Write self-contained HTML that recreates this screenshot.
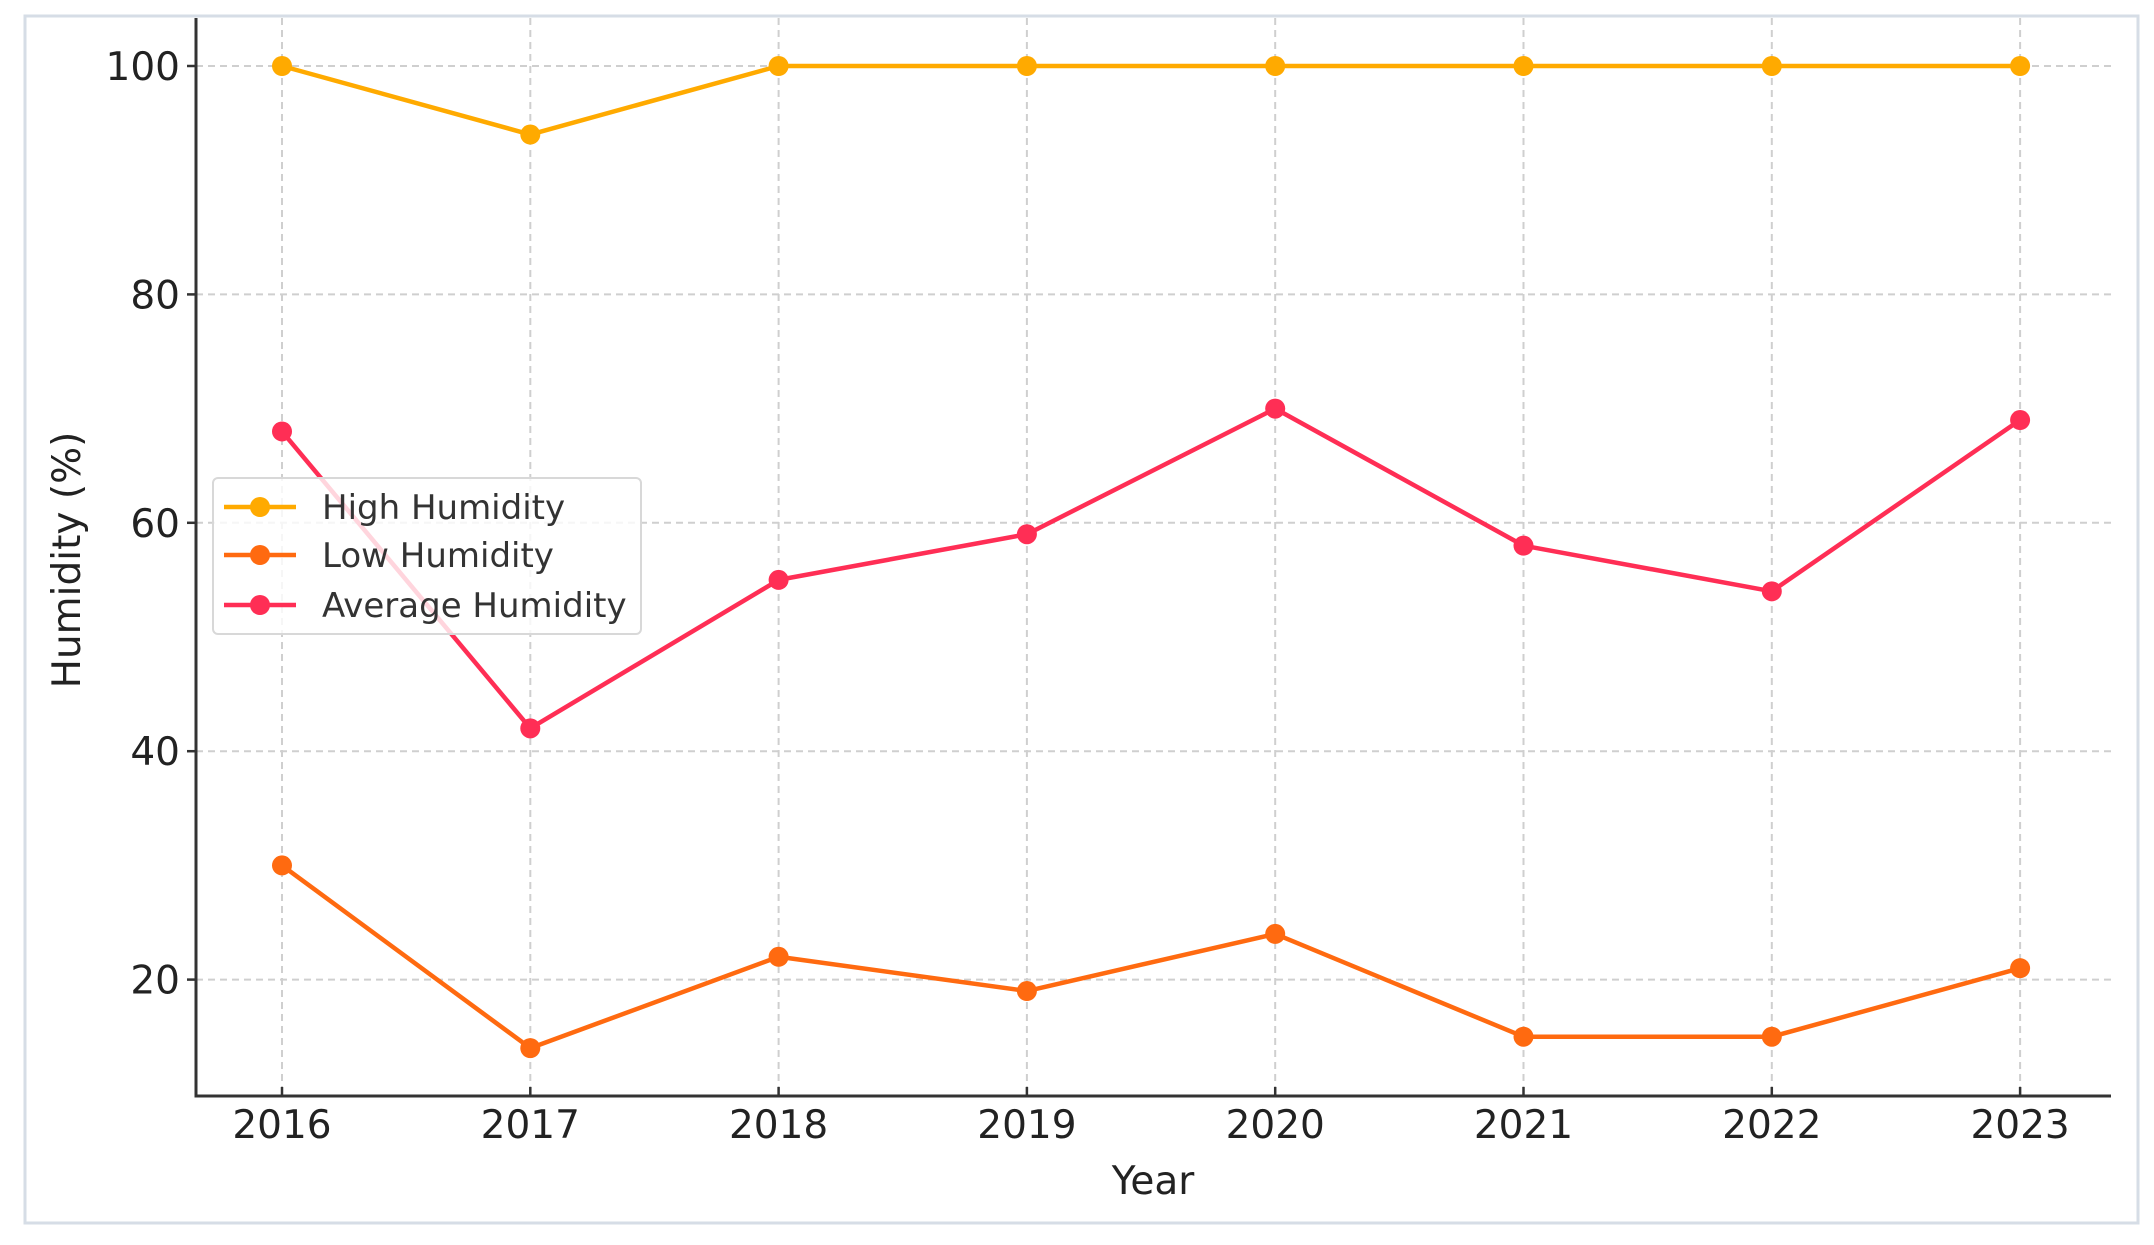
<!DOCTYPE html>
<html><head><meta charset="utf-8"><style>
html,body{margin:0;padding:0;background:#fff;}
svg{display:block;font-family:"DejaVu Sans","Liberation Sans",sans-serif;}
</style></head><body>
<svg id="chart" width="2154" height="1245" viewBox="0 0 2154 1245">
<rect x="25" y="16" width="2113" height="1207" fill="#fff" stroke="#d6dde6" stroke-width="3"/>
<g id="grid"></g>
<g id="axes"></g>
<g id="series"></g>
<text x="1153" y="1194" font-size="39" text-anchor="middle" fill="#222">Year</text>
<text transform="translate(80,560) rotate(-90)" font-size="39" text-anchor="middle" fill="#222">Humidity (%)</text>
<g id="legend"></g>
</svg>
<script>
const years = [2016,2017,2018,2019,2020,2021,2022,2023];
const highHumidity = [100,94,100,100,100,100,100,100];
const lowHumidity = [30,14,22,19,24,15,15,21];
const avgHumidity = [68,42,55,59,70,58,54,69];
const yTicks = [20,40,60,80,100];
const seriesNames = ["High Humidity","Low Humidity","Average Humidity"];

const NS = "http://www.w3.org/2000/svg";
const X0 = 282, XSTEP = 248.3;
function xs(i){ return X0 + i*XSTEP; }
function ys(v){ return 66 + (100 - v)*11.42; }
function mk(tag, attrs, parent){
  const e = document.createElementNS(NS, tag);
  for (const k in attrs) e.setAttribute(k, attrs[k]);
  parent.appendChild(e);
  return e;
}
const grid = document.getElementById('grid');
const axes = document.getElementById('axes');
const series = document.getElementById('series');
const legend = document.getElementById('legend');
const L = 196, R = 2111, T = 18, B = 1096;

yTicks.forEach(v => {
  const y = ys(v);
  const g = mk('line', {x1:L, x2:R, y1:y, y2:y, stroke:'#cfcfcf', 'stroke-width':2, 'stroke-dasharray':'7,5'}, grid);
  
  
  const t = mk('line', {x1:L-9, x2:L, y1:y, y2:y, stroke:'#333', 'stroke-width':2.5}, axes);
  
  
  const lb = mk('text', {x:L-16, y:y+14, 'font-size':39, 'text-anchor':'end', fill:'#222'}, axes);
  lb.textContent = v;
  
  
});
years.forEach((yr, i) => {
  const x = xs(i);
  const g = mk('line', {x1:x, x2:x, y1:T, y2:B, stroke:'#cfcfcf', 'stroke-width':2, 'stroke-dasharray':'7,5'}, grid);
  
  
  const t = mk('line', {x1:x, x2:x, y1:B, y2:B-9, stroke:'#333', 'stroke-width':2.5}, axes);
  
  
  const lb = mk('text', {x:x, y:B+42, 'font-size':39, 'text-anchor':'middle', fill:'#222'}, axes);
  lb.textContent = yr;
  
  
});
const ax1 = mk('line', {x1:L, x2:L, y1:T, y2:B+1.5, stroke:'#333', 'stroke-width':3}, axes);


const ax2 = mk('line', {x1:L-1.5, x2:R, y1:B, y2:B, stroke:'#333', 'stroke-width':3}, axes);



const colors = ['#FFAA00','#FF6A10','#FF2E55'];
const data = [highHumidity, lowHumidity, avgHumidity];
const keys = ['high','low','average'];
data.forEach((arr, s) => {
  const pts = arr.map((v, i) => xs(i) + ',' + ys(v)).join(' ');
  const pl = mk('polyline', {points:pts, fill:'none', stroke:colors[s], 'stroke-width':4.5, 'stroke-linejoin':'round'}, series);
  
  
  arr.forEach((v, i) => {
    const c = mk('circle', {cx:xs(i), cy:ys(v), r:10, fill:colors[s]}, series);
    
    
  });
});

const lbx = mk('rect', {x:213, y:478, width:428, height:156, rx:5, fill:'rgba(255,255,255,0.8)', stroke:'#d8d8d8', 'stroke-width':2}, legend);


const rowsY = [507, 555, 605];
seriesNames.forEach((n, s) => {
  const y = rowsY[s];
  const ln = mk('line', {x1:224, x2:296, y1:y, y2:y, stroke:colors[s], 'stroke-width':4.5}, legend);
  
  
  const c = mk('circle', {cx:260, cy:y, r:10, fill:colors[s]}, legend);
  
  
  const t = mk('text', {x:322, y:y+12, 'font-size':34, fill:'#333'}, legend);
  t.textContent = n;
  
  
});
</script>
</body></html>
